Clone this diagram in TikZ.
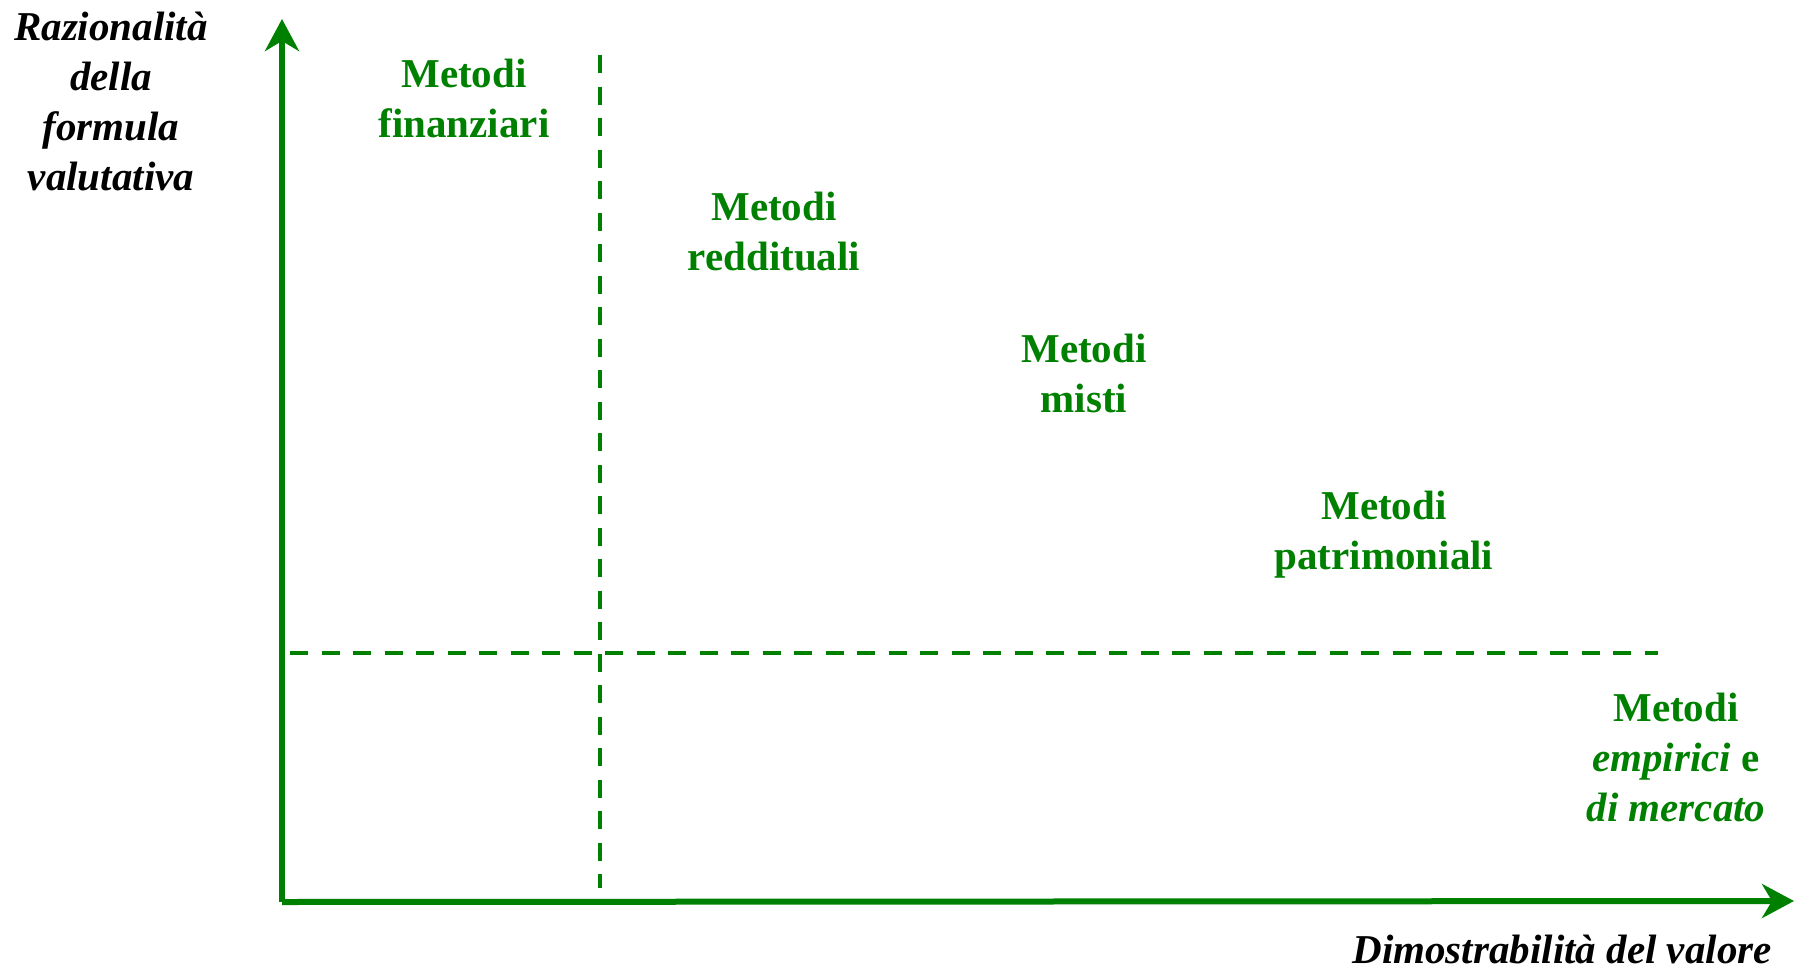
\documentclass[tikz,border=0pt]{standalone}
\usepackage{fontspec}
\setmainfont{Liberation Serif}
\usetikzlibrary{arrows.meta}
\definecolor{grn}{RGB}{0,128,0}
\begin{document}
\begin{tikzpicture}[x=0.5pt,y=-0.5pt,
  axisline/.style={draw=grn,line width=3pt,-{Stealth[length=16pt,width=17pt,inset=5pt]}},
  guideline/.style={draw=grn,line width=2.25pt,dash pattern=on 9pt off 6.75pt},
  method/.style={text=grn,font=\fontsize{20.5}{25}\selectfont\bfseries,align=center,inner sep=0pt},
  axislabel/.style={text=black,font=\fontsize{20.5}{25}\selectfont\bfseries\itshape,align=center,inner sep=0pt}]
\useasboundingbox (0,0) rectangle (1794,969);
% axes
\coordinate (O) at (282,902);
\coordinate (Ytip) at (282,19);
\coordinate (Xtip) at (1794,901);
\draw[axisline] (O) -- (Ytip);
\draw[axisline] (O) -- (Xtip);
% guide lines
\coordinate (Vtop) at (600,55);
\coordinate (Vbot) at (600,888);
\coordinate (Hleft) at (290,653);
\coordinate (Hright) at (1658,653);
\draw[guideline] (Vtop) -- (Vbot);
\draw[guideline] (Hleft) -- (Hright);
% axis labels
\node[axislabel] (ylab) at (111,101) {Razionalità\\della\\formula\\valutativa};
\node[axislabel,anchor=base east] (xlab) at (1772,963) {Dimostrabilità del valore};
% methods
\node[method] (fin) at (464,98) {Metodi\\finanziari};
\node[method] (red) at (774,232) {Metodi\\reddituali};
\node[method] (mis) at (1084,373) {Metodi\\misti};
\node[method] (pat) at (1384,535) {Metodi\\patrimoniali};
\node[method] (emp) at (1676,757) {Metodi\\\textit{empirici} e\\\textit{di mercato}};
\end{tikzpicture}
\end{document}
